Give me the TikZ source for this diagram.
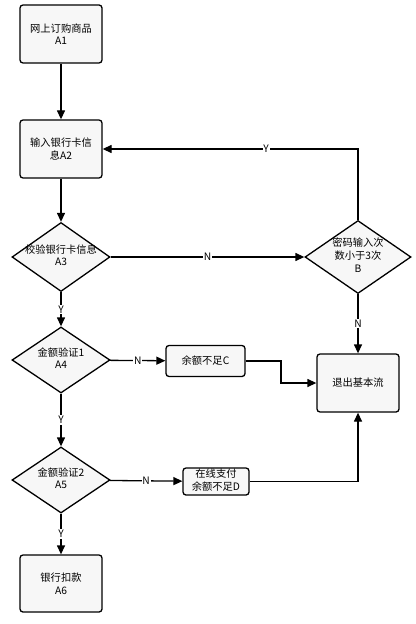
\documentclass[tikz,border=0pt]{standalone}
\usepackage{fontspec}
\setmainfont{Noto Sans CJK SC}
\usetikzlibrary{shapes.geometric,arrows.meta}
\newcommand{\ctext}[1]{\makebox[0pt]{\begin{tabular}{@{}c@{}}#1\end{tabular}}}
\tikzset{
  every node/.style={font=\fontsize{10.3}{12.6}\selectfont},
  procbox/.style={draw=black, line width=1.3bp, fill=gray!6, rounded corners=3bp, inner sep=0pt, align=center},
  decision/.style={draw=black, line width=1.3bp, fill=gray!6, diamond, inner sep=0pt},
  conn/.style={line width=1.3bp, -{Triangle[length=9bp,width=8bp]}},
  plainline/.style={line width=1.3bp},
  elabel/.style={fill=white, inner sep=0.8bp, font=\fontsize{10.3}{12}\selectfont}
}
\begin{document}
\begin{tikzpicture}[x=1bp,y=-1bp]
\useasboundingbox[fill=white] (0,0) rectangle (415,624);
\node[procbox, minimum width=82bp, minimum height=58bp] (A1) at (61,34) {网上订购商品\\A1};
\node[procbox, minimum width=82bp, minimum height=58bp] (A2) at (61,149) {输入银行卡信\\息A2};
\node[decision, minimum width=98bp, minimum height=69bp] (A3) at (61,257) {\ctext{校验银行卡信息\\A3}};
\node[decision, minimum width=106bp, minimum height=73bp] (B) at (358,257) {\ctext{密码输入次\\数小于3次\\B}};
\node[procbox, minimum width=82bp, minimum height=58bp] (E) at (358,383) {退出基本流};
\node[decision, minimum width=98bp, minimum height=66bp] (A4) at (61,360) {\ctext{金额验证1\\A4}};
\node[procbox, minimum width=79bp, minimum height=31bp] (C) at (205.5,361) {余额不足C};
\node[decision, minimum width=98bp, minimum height=66bp] (A5) at (61,480) {\ctext{金额验证2\\A5}};
\node[procbox, minimum width=66bp, minimum height=27bp] (D) at (216,481.5) {\ctext{在线支付\\余额不足D}};
\node[procbox, minimum width=82bp, minimum height=57bp] (A6) at (61,583.5) {银行扣款\\A6};
\coordinate (cbend) at (281,361);

\draw[conn] (A1) -- (A2);
\draw[conn] (A2) -- (A3);
\draw[conn] (A3) -- node[elabel] (lN1) {N} (B);
\draw[conn] (B.north) |- node[elabel, pos=0.68] (lY1) {Y} (A2.east);
\draw[conn] (B) -- node[elabel] (lN2) {N} (E);
\draw[conn] (A3) -- node[elabel] (lY2) {Y} (A4);
\draw[conn] (A4) -- node[elabel] (lN3) {N} (C);
\draw[conn] (C.east) -- (cbend) |- (E.west);
\draw[conn] (A4) -- node[elabel] (lY3) {Y} (A5);
\draw[conn] (A5) -- node[elabel] (lN4) {N} (D);
\draw[conn] (D.east) -| (E.south);
\draw[conn] (A5) -- node[elabel] (lY4) {Y} (A6);
\end{tikzpicture}
\end{document}
